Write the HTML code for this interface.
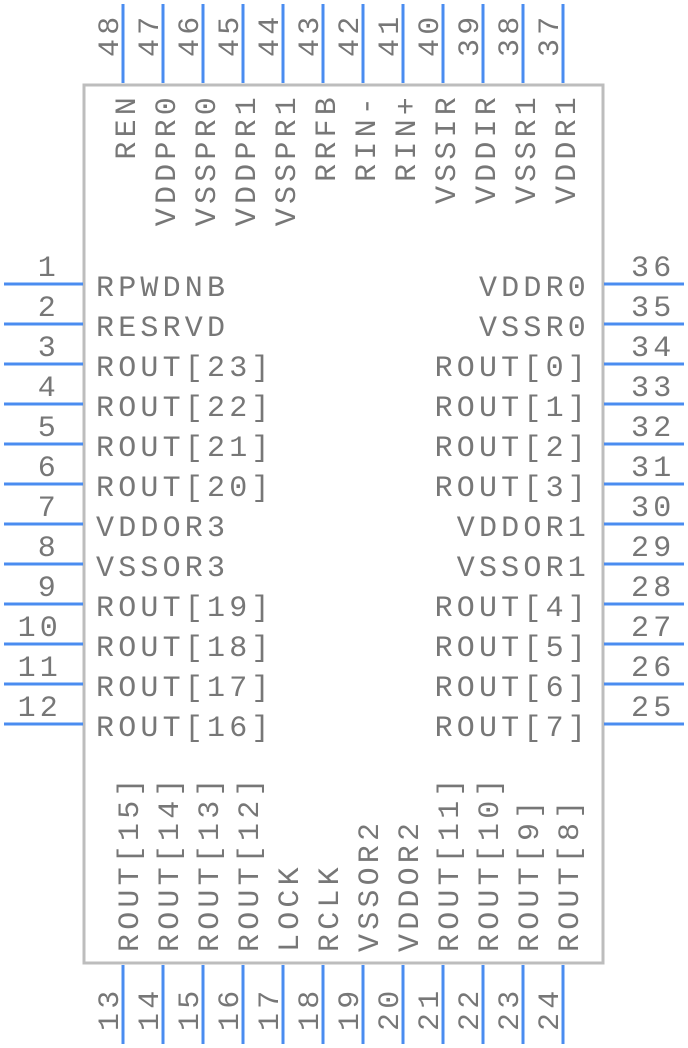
<!DOCTYPE html>
<html><head><meta charset="utf-8"><style>
html,body{margin:0;padding:0;background:#fff;}
svg{display:block;}
text{font-family:"Liberation Mono","DejaVu Sans Mono",monospace;font-size:30px;fill:#777;letter-spacing:4.2px;}
.p{stroke:#4a8cf0;stroke-width:3;}
</style></head><body>
<svg width="688" height="1048" viewBox="0 0 688 1048" xmlns="http://www.w3.org/2000/svg">
<rect x="84" y="85" width="519" height="878" fill="none" stroke="#bdbdbd" stroke-width="3"/>
<g class="p">
<line x1="4" y1="284" x2="83" y2="284"/><line x1="4" y1="324" x2="83" y2="324"/><line x1="4" y1="364" x2="83" y2="364"/><line x1="4" y1="404" x2="83" y2="404"/><line x1="4" y1="444" x2="83" y2="444"/><line x1="4" y1="484" x2="83" y2="484"/><line x1="4" y1="524" x2="83" y2="524"/><line x1="4" y1="564" x2="83" y2="564"/><line x1="4" y1="604" x2="83" y2="604"/><line x1="4" y1="644" x2="83" y2="644"/><line x1="4" y1="684" x2="83" y2="684"/><line x1="4" y1="724" x2="83" y2="724"/>
<line x1="604" y1="284" x2="684" y2="284"/><line x1="604" y1="324" x2="684" y2="324"/><line x1="604" y1="364" x2="684" y2="364"/><line x1="604" y1="404" x2="684" y2="404"/><line x1="604" y1="444" x2="684" y2="444"/><line x1="604" y1="484" x2="684" y2="484"/><line x1="604" y1="524" x2="684" y2="524"/><line x1="604" y1="564" x2="684" y2="564"/><line x1="604" y1="604" x2="684" y2="604"/><line x1="604" y1="644" x2="684" y2="644"/><line x1="604" y1="684" x2="684" y2="684"/><line x1="604" y1="724" x2="684" y2="724"/>
<line x1="123" y1="4" x2="123" y2="83"/><line x1="163" y1="4" x2="163" y2="83"/><line x1="203" y1="4" x2="203" y2="83"/><line x1="243" y1="4" x2="243" y2="83"/><line x1="283" y1="4" x2="283" y2="83"/><line x1="323" y1="4" x2="323" y2="83"/><line x1="363" y1="4" x2="363" y2="83"/><line x1="403" y1="4" x2="403" y2="83"/><line x1="443" y1="4" x2="443" y2="83"/><line x1="483" y1="4" x2="483" y2="83"/><line x1="523" y1="4" x2="523" y2="83"/><line x1="563" y1="4" x2="563" y2="83"/>
<line x1="123" y1="965" x2="123" y2="1044"/><line x1="163" y1="965" x2="163" y2="1044"/><line x1="203" y1="965" x2="203" y2="1044"/><line x1="243" y1="965" x2="243" y2="1044"/><line x1="283" y1="965" x2="283" y2="1044"/><line x1="323" y1="965" x2="323" y2="1044"/><line x1="363" y1="965" x2="363" y2="1044"/><line x1="403" y1="965" x2="403" y2="1044"/><line x1="443" y1="965" x2="443" y2="1044"/><line x1="483" y1="965" x2="483" y2="1044"/><line x1="523" y1="965" x2="523" y2="1044"/><line x1="563" y1="965" x2="563" y2="1044"/>
</g>
<g>
<text x="96" y="296">RPWDNB</text><text x="96" y="336">RESRVD</text><text x="96" y="376">ROUT[23]</text><text x="96" y="416">ROUT[22]</text><text x="96" y="456">ROUT[21]</text><text x="96" y="496">ROUT[20]</text><text x="96" y="536">VDDOR3</text><text x="96" y="576">VSSOR3</text><text x="96" y="616">ROUT[19]</text><text x="96" y="656">ROUT[18]</text><text x="96" y="696">ROUT[17]</text><text x="96" y="736">ROUT[16]</text>
</g>
<g text-anchor="end">
<text x="60" y="276">1</text><text x="60" y="316">2</text><text x="60" y="356">3</text><text x="60" y="396">4</text><text x="60" y="436">5</text><text x="60" y="476">6</text><text x="60" y="516">7</text><text x="60" y="556">8</text><text x="60" y="596">9</text><text x="62" y="636">10</text><text x="62" y="676">11</text><text x="62" y="716">12</text>
<text x="590" y="296">VDDR0</text><text x="590" y="336">VSSR0</text><text x="590" y="376">ROUT[0]</text><text x="590" y="416">ROUT[1]</text><text x="590" y="456">ROUT[2]</text><text x="590" y="496">ROUT[3]</text><text x="590" y="536">VDDOR1</text><text x="590" y="576">VSSOR1</text><text x="590" y="616">ROUT[4]</text><text x="590" y="656">ROUT[5]</text><text x="590" y="696">ROUT[6]</text><text x="590" y="736">ROUT[7]</text>
</g>
<g>
<text x="631" y="276">36</text><text x="631" y="316">35</text><text x="631" y="356">34</text><text x="631" y="396">33</text><text x="631" y="436">32</text><text x="631" y="476">31</text><text x="631" y="516">30</text><text x="631" y="556">29</text><text x="631" y="596">28</text><text x="631" y="636">27</text><text x="631" y="676">26</text><text x="631" y="716">25</text>
</g>
<g>
<text transform="translate(118,57) rotate(-90)">48</text><text transform="translate(158,57) rotate(-90)">47</text><text transform="translate(198,57) rotate(-90)">46</text><text transform="translate(238,57) rotate(-90)">45</text><text transform="translate(278,57) rotate(-90)">44</text><text transform="translate(318,57) rotate(-90)">43</text><text transform="translate(358,57) rotate(-90)">42</text><text transform="translate(398,57) rotate(-90)">41</text><text transform="translate(438,57) rotate(-90)">40</text><text transform="translate(478,57) rotate(-90)">39</text><text transform="translate(518,57) rotate(-90)">38</text><text transform="translate(558,57) rotate(-90)">37</text>
</g>
<g text-anchor="end">
<text transform="translate(135,93) rotate(-90)">REN</text><text transform="translate(175,93) rotate(-90)">VDDPR0</text><text transform="translate(215,93) rotate(-90)">VSSPR0</text><text transform="translate(255,93) rotate(-90)">VDDPR1</text><text transform="translate(295,93) rotate(-90)">VSSPR1</text><text transform="translate(335,93) rotate(-90)">RRFB</text><text transform="translate(375,93) rotate(-90)">RIN-</text><text transform="translate(415,93) rotate(-90)">RIN+</text><text transform="translate(455,93) rotate(-90)">VSSIR</text><text transform="translate(495,93) rotate(-90)">VDDIR</text><text transform="translate(535,93) rotate(-90)">VSSR1</text><text transform="translate(575,93) rotate(-90)">VDDR1</text>
</g>
<g>
<text transform="translate(138,952) rotate(-90)">ROUT[15]</text><text transform="translate(178,952) rotate(-90)">ROUT[14]</text><text transform="translate(218,952) rotate(-90)">ROUT[13]</text><text transform="translate(258,952) rotate(-90)">ROUT[12]</text><text transform="translate(298,952) rotate(-90)">LOCK</text><text transform="translate(338,952) rotate(-90)">RCLK</text><text transform="translate(378,952) rotate(-90)">VSSOR2</text><text transform="translate(418,952) rotate(-90)">VDDOR2</text><text transform="translate(458,952) rotate(-90)">ROUT[11]</text><text transform="translate(498,952) rotate(-90)">ROUT[10]</text><text transform="translate(538,952) rotate(-90)">ROUT[9]</text><text transform="translate(578,952) rotate(-90)">ROUT[8]</text>
<text transform="translate(118,1031) rotate(-90)">13</text><text transform="translate(158,1031) rotate(-90)">14</text><text transform="translate(198,1031) rotate(-90)">15</text><text transform="translate(238,1031) rotate(-90)">16</text><text transform="translate(278,1031) rotate(-90)">17</text><text transform="translate(318,1031) rotate(-90)">18</text><text transform="translate(358,1031) rotate(-90)">19</text><text transform="translate(398,1031) rotate(-90)">20</text><text transform="translate(438,1031) rotate(-90)">21</text><text transform="translate(478,1031) rotate(-90)">22</text><text transform="translate(518,1031) rotate(-90)">23</text><text transform="translate(558,1031) rotate(-90)">24</text>
</g>
</svg>
</body></html>
